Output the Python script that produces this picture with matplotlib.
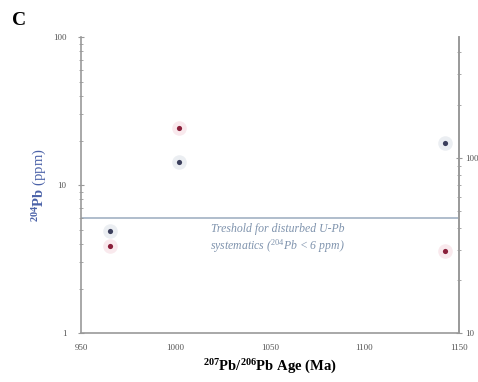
import matplotlib
matplotlib.use("Agg")
import matplotlib.pyplot as plt
import numpy as np

plt.rcParams['font.family'] = ['Liberation Serif', 'DejaVu Serif']
plt.rcParams['mathtext.fontset'] = 'custom'
plt.rcParams['mathtext.rm'] = 'Liberation Serif'
plt.rcParams['mathtext.it'] = 'Liberation Serif:italic'
plt.rcParams['mathtext.bf'] = 'Liberation Serif:bold'

# data
blue_age = [965.5, 1002, 1142.5]
blue_pb = [4.9, 14.4, 19.3]
red_age = [965.5, 1002, 1142.5]
red_pb = [3.85, 24.4, 3.6]
threshold = 6.0
xticks = [950, 1000, 1050, 1100, 1150]

fig = plt.figure(figsize=(4.78, 3.82), dpi=100)
ax = fig.add_axes([0.1695, 0.128, 0.7905, 0.775])
ax.set_yscale('log')
ax.set_xlim(950, 1150)
ax.set_ylim(1, 100)

# threshold line
ax.axhline(threshold, color='#a9b8c8', lw=1.3, zorder=1)
ax.text(1054, 5.55, 'Treshold for disturbed U-Pb\nsystematics ($^{204}$Pb < 6 ppm)',
        ha='center', va='top', style='italic', fontsize=8.5, color='#7f93ad',
        linespacing=1.2)

# glow halos + points
ax.scatter(blue_age, blue_pb, s=110, color='#dfe4ea', alpha=0.6, lw=0, zorder=2)
ax.scatter(red_age, red_pb, s=110, color='#f6dbe2', alpha=0.6, lw=0, zorder=2)
ax.scatter(blue_age, blue_pb, s=14, color='#3b3f5c', lw=0, zorder=3)
ax.scatter(red_age, red_pb, s=14, color='#8a1f3a', lw=0, zorder=3)

for s in ['left', 'bottom', 'right']:
    ax.spines[s].set_color('#999999')
    ax.spines[s].set_linewidth(1.2)
ax.spines['top'].set_visible(False)

ax.set_xticks(xticks)
ax.set_xticklabels([str(v) for v in xticks])
ax.tick_params(axis='x', length=0, labelsize=6.5, pad=8, colors='#555555')
ax.tick_params(axis='y', which='both', direction='inout', colors='#999999',
               labelcolor='#555555', labelsize=6.5)
ax.tick_params(axis='y', which='major', length=5, pad=8)
ax.tick_params(axis='y', which='minor', length=3)
ax.yaxis.set_major_formatter(matplotlib.ticker.FuncFormatter(lambda v, p: '%g' % v))

ax.set_xlabel('$^{\\mathbf{207}}$Pb/$^{\\mathbf{206}}$Pb Age (Ma)', fontsize=10.5,
              fontweight='bold', labelpad=4)
ax.set_ylabel('$^{\\mathbf{204}}\\mathbf{Pb}$ (ppm)', fontsize=10.5, color='#4b62a8',
              labelpad=3)

# right axis
ax2 = ax.twinx()
ax2.set_yscale('log')
ax2.set_ylim(10, 490)
for s in ['top', 'left', 'bottom']:
    ax2.spines[s].set_visible(False)
ax2.spines['right'].set_color('#999999')
ax2.spines['right'].set_linewidth(1.2)
ax2.tick_params(axis='y', which='both', direction='inout', colors='#999999',
                labelcolor='#555555', labelsize=6.5)
ax2.tick_params(axis='y', which='major', length=5, pad=2)
ax2.tick_params(axis='y', which='minor', length=3)
ax2.yaxis.set_major_formatter(matplotlib.ticker.FuncFormatter(lambda v, p: '%g' % v))

fig.text(0.025, 0.935, 'C', fontsize=14, fontweight='bold')

fig.savefig('out.png', dpi=100)
